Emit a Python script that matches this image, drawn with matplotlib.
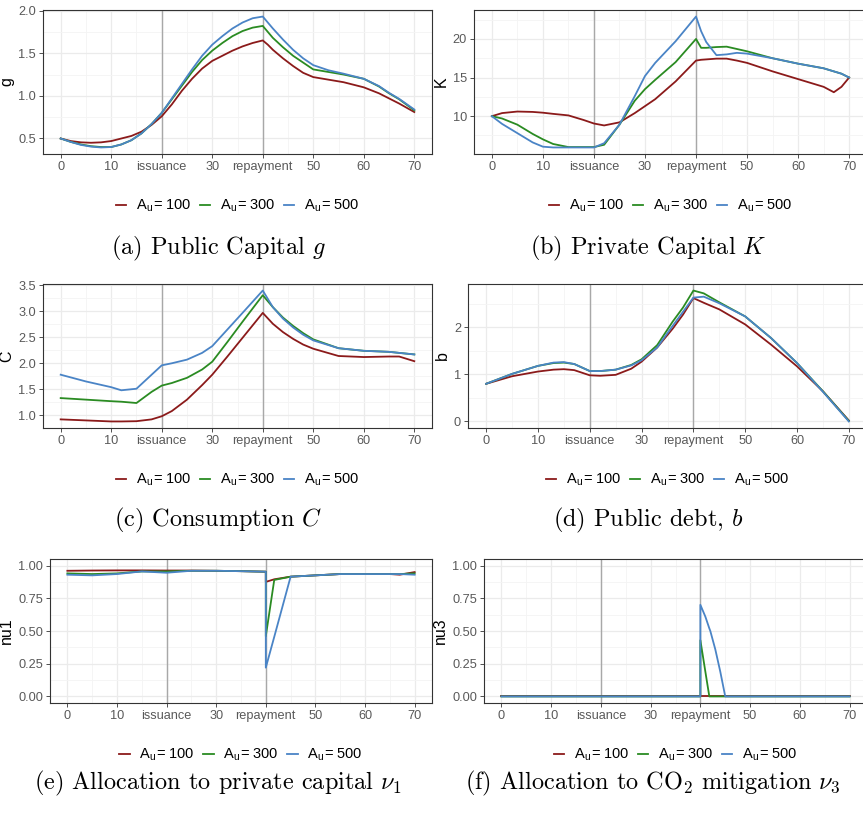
# simulated paths for three productivity levels A_u, six panels
import matplotlib
matplotlib.use('Agg')
import matplotlib.pyplot as plt
from matplotlib.ticker import FixedLocator, FormatStrFormatter
import numpy as np

plt.rcParams['font.family'] = ['Liberation Sans', 'DejaVu Sans']
plt.rcParams['mathtext.fontset'] = 'cm'

labels = [r'A$_{\mathregular{u}}$= 100', r'A$_{\mathregular{u}}$= 300', r'A$_{\mathregular{u}}$= 500']
colors = ['#8B1A1A', '#2A8B22', '#4A84C6']
xticks = [0, 10, 20, 30, 40, 50, 60, 70]
xticklabels = ['0', '10', 'issuance', '30', 'repayment', '50', '60', '70']
events = [20, 40]

# public capital g
t_g = [0, 2, 4, 6, 8, 10, 12, 14, 16, 18, 20, 22, 24, 26, 28, 30, 32, 34, 36, 38, 40, 41, 42, 44, 46, 48, 50,
       53, 56, 60, 63, 65, 67, 70]
g_100 = [0.50, 0.47, 0.455, 0.45, 0.455, 0.47, 0.50, 0.53, 0.58, 0.66, 0.76, 0.90, 1.06, 1.20, 1.32, 1.41,
         1.47, 1.53, 1.58, 1.62, 1.65, 1.60, 1.54, 1.44, 1.35, 1.27, 1.22, 1.19, 1.16, 1.10, 1.03, 0.97, 0.91, 0.81]
g_300 = [0.50, 0.46, 0.43, 0.41, 0.40, 0.40, 0.43, 0.48, 0.56, 0.67, 0.80, 0.96, 1.12, 1.28, 1.42, 1.53,
         1.62, 1.70, 1.76, 1.80, 1.82, 1.75, 1.68, 1.57, 1.47, 1.39, 1.31, 1.28, 1.25, 1.20, 1.11, 1.03, 0.96, 0.83]
g_500 = [0.50, 0.46, 0.425, 0.405, 0.395, 0.40, 0.43, 0.48, 0.56, 0.67, 0.80, 0.97, 1.14, 1.31, 1.47, 1.60,
         1.70, 1.79, 1.86, 1.91, 1.93, 1.86, 1.79, 1.66, 1.54, 1.44, 1.36, 1.30, 1.26, 1.20, 1.115, 1.035, 0.965, 0.84]

# private capital K
t_K = [0, 2, 5, 8, 10, 12, 15, 18, 20, 22, 25, 28, 30, 32, 36, 40, 41, 42, 44, 46, 48, 50, 55, 60, 65, 67, 68.5, 70]
K_100 = [10.0, 10.4, 10.6, 10.55, 10.45, 10.3, 10.1, 9.5, 9.05, 8.8, 9.2, 10.4, 11.3, 12.2, 14.5, 17.2, 17.3, 17.35,
         17.45, 17.45, 17.2, 16.9, 15.8, 14.8, 13.8, 13.1, 13.8, 15.0]
K_300 = [10.0, 9.7, 8.9, 7.7, 7.0, 6.4, 6.0, 6.0, 6.0, 6.3, 8.9, 12.0, 13.5, 14.7, 17.0, 20.0, 18.85, 18.85,
         18.95, 19.0, 18.7, 18.4, 17.5, 16.8, 16.2, 15.8, 15.5, 15.0]
K_500 = [10.0, 9.0, 7.8, 6.6, 6.05, 5.95, 5.95, 5.95, 5.95, 6.5, 8.9, 12.6, 15.2, 16.9, 19.7, 22.9, 21.0, 19.6,
         17.9, 18.0, 18.2, 18.1, 17.5, 16.8, 16.2, 15.8, 15.5, 15.0]

# consumption C
t_C = [0, 5, 10, 12, 15, 18, 20, 22, 25, 28, 30, 33, 36, 40, 42, 44, 46, 48, 50, 55, 60, 65, 67, 70]
C_100 = [0.92, 0.90, 0.88, 0.88, 0.885, 0.92, 0.98, 1.08, 1.30, 1.58, 1.78, 2.13, 2.49, 2.97, 2.76, 2.60, 2.47,
         2.36, 2.28, 2.14, 2.12, 2.13, 2.13, 2.04]
C_300 = [1.33, 1.30, 1.27, 1.26, 1.235, 1.45, 1.57, 1.62, 1.72, 1.88, 2.03, 2.41, 2.80, 3.31, 3.08, 2.88, 2.72,
         2.58, 2.46, 2.29, 2.24, 2.22, 2.20, 2.17]
C_500 = [1.78, 1.65, 1.54, 1.48, 1.51, 1.78, 1.96, 2.00, 2.07, 2.20, 2.33, 2.65, 2.97, 3.40, 3.08, 2.86, 2.69,
         2.55, 2.44, 2.29, 2.24, 2.22, 2.20, 2.17]

# public debt b
t_b = [0, 5, 10, 13, 15, 17, 20, 22, 25, 28, 30, 33, 36, 38, 40, 42, 45, 50, 55, 60, 65, 70]
b_100 = [0.80, 0.96, 1.06, 1.10, 1.11, 1.09, 0.98, 0.97, 0.99, 1.12, 1.27, 1.57, 1.97, 2.27, 2.62, 2.52, 2.38,
         2.06, 1.63, 1.17, 0.64, 0.02]
b_300 = [0.80, 1.01, 1.18, 1.24, 1.25, 1.22, 1.07, 1.07, 1.10, 1.20, 1.32, 1.62, 2.12, 2.42, 2.78, 2.72, 2.53,
         2.23, 1.77, 1.24, 0.64, 0.01]
b_500 = [0.80, 1.01, 1.18, 1.25, 1.26, 1.22, 1.07, 1.07, 1.10, 1.19, 1.30, 1.57, 2.03, 2.33, 2.63, 2.65, 2.51,
         2.23, 1.77, 1.24, 0.63, 0.0]

# allocation to private capital nu1
t_nu1 = [0, 5, 10, 15, 20, 25, 30, 35, 40, 40, 41.7, 45, 50, 55, 60, 65, 67, 70]
nu1_100 = [0.96, 0.962, 0.963, 0.963, 0.962, 0.962, 0.96, 0.957, 0.953, 0.875, 0.895, 0.915, 0.925, 0.935,
           0.935, 0.935, 0.93, 0.95]
nu1_300 = [0.94, 0.935, 0.94, 0.955, 0.955, 0.96, 0.96, 0.957, 0.953, 0.46, 0.89, 0.915, 0.925, 0.935,
           0.935, 0.935, 0.935, 0.94]
nu1_500 = [0.93, 0.925, 0.935, 0.955, 0.945, 0.96, 0.96, 0.957, 0.953, 0.22, 0.455, 0.915, 0.925, 0.935,
           0.935, 0.935, 0.935, 0.93]

# allocation to CO2 mitigation nu3
t_nu3 = [0, 40, 40, 41, 41.8, 42, 43, 44, 45, 70]
nu3_100 = [0, 0, 0, 0, 0, 0, 0, 0, 0, 0]
nu3_300 = [0, 0, 0.43, 0.19, 0, 0, 0, 0, 0, 0]
nu3_500 = [0, 0, 0.70, 0.61, 0.52, 0.50, 0.36, 0.19, 0, 0]

W, H = 863, 813
fig = plt.figure(figsize=(W / 100, H / 100), dpi=100)


def px_axes(left, right, top, bottom):
    return fig.add_axes([left / W, 1 - bottom / H, (right - left) / W, (bottom - top) / H])


def draw_panel(ax, t, series, ylabel, yticks, yfmt, ylim=None):
    for ev in events:
        ax.axvline(ev, color='#A8A8A8', lw=1.0, zorder=1)
    for y, c in zip(series, colors):
        ax.plot(t, y, color=c, lw=1.3, zorder=3)
    ax.set_xlim(-3.5, 73.5)
    if ylim is not None:
        ax.set_ylim(*ylim)
    else:
        allv = np.concatenate([np.asarray(s, dtype=float) for s in series])
        lo, hi = allv.min(), allv.max()
        pad = (hi - lo) * 0.05
        ax.set_ylim(lo - pad, hi + pad)
    ax.set_xticks(xticks)
    ax.set_xticklabels(xticklabels)
    ax.set_yticks(yticks)
    ax.yaxis.set_major_formatter(FormatStrFormatter(yfmt))
    step = yticks[1] - yticks[0]
    ax.xaxis.set_minor_locator(FixedLocator([5, 15, 25, 35, 45, 55, 65]))
    ax.yaxis.set_minor_locator(FixedLocator([v + step / 2 for v in [yticks[0] - step] + list(yticks)]))
    ax.grid(True, which='major', color='#EBEBEB', lw=0.9, zorder=0)
    ax.grid(True, which='minor', color='#F4F4F4', lw=0.6, zorder=0)
    ax.set_axisbelow(True)
    ax.tick_params(which='major', length=3, width=0.6, color='#333333', labelsize=9.2,
                   labelcolor='#595959', pad=2)
    ax.tick_params(which='minor', length=0)
    for s in ax.spines.values():
        s.set_color('#333333')
        s.set_linewidth(0.8)
    ax.set_ylabel(ylabel, fontsize=11.5, labelpad=3)


def add_legend(ax, y_px):
    pos = ax.get_position()
    handles = [plt.Line2D([], [], color=c, lw=1.3) for c in colors]
    fig.legend(handles, labels, loc='center', ncol=3, frameon=False,
               bbox_to_anchor=((pos.x0 + pos.x1) / 2, 1 - y_px / H),
               fontsize=10.5, handlelength=0.7, handletextpad=0.65, columnspacing=0.6)


def add_caption(x_px, y_px, text):
    fig.text(x_px / W, 1 - y_px / H, text, ha='center', va='center',
             fontsize=17.5, family='cmr10')


ax_a = px_axes(43, 432, 10, 154)
draw_panel(ax_a, t_g, [g_100, g_300, g_500], 'g', [0.5, 1.0, 1.5, 2.0], '%.1f')
ax_b = px_axes(474, 867, 10, 154)
draw_panel(ax_b, t_K, [K_100, K_300, K_500], 'K', [10, 15, 20], '%d')
ax_c = px_axes(43, 432, 284, 428)
draw_panel(ax_c, t_C, [C_100, C_300, C_500], 'C', [1.0, 1.5, 2.0, 2.5, 3.0, 3.5], '%.1f')
ax_d = px_axes(468, 867, 284, 428)
draw_panel(ax_d, t_b, [b_100, b_300, b_500], 'b', [0, 1, 2], '%d')
ax_e = px_axes(50, 432, 559, 703)
draw_panel(ax_e, t_nu1, [nu1_100, nu1_300, nu1_500], 'nu1', [0, 0.25, 0.5, 0.75, 1.0], '%.2f',
           ylim=(-0.05, 1.05))
ax_f = px_axes(484, 867, 559, 703)
draw_panel(ax_f, t_nu3, [nu3_100, nu3_300, nu3_500], 'nu3', [0, 0.25, 0.5, 0.75, 1.0], '%.2f',
           ylim=(-0.05, 1.05))

for ax, y in [(ax_a, 206), (ax_b, 206), (ax_c, 480), (ax_d, 480), (ax_e, 755), (ax_f, 755)]:
    add_legend(ax, y)

add_caption(218, 248, r'(a) Public Capital $g$')
add_caption(648, 248, r'(b) Private Capital $K$')
add_caption(218, 520, r'(c) Consumption $C$')
add_caption(648, 520, r'(d) Public debt, $b$')
add_caption(218, 783, r'(e) Allocation to private capital $\nu_1$')
add_caption(653, 783, r'(f) Allocation to CO$_2$ mitigation $\nu_3$')

fig.savefig('out.png', dpi=100)
